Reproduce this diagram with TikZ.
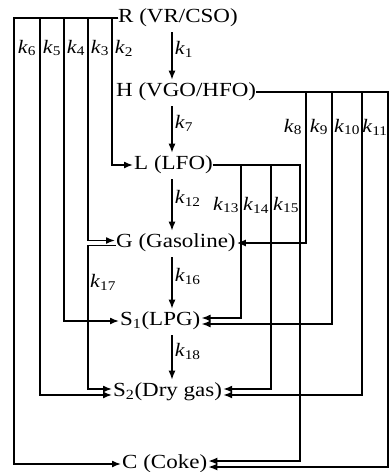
\documentclass[tikz,border=0pt]{standalone}
\usepackage{fontspec}
\setmainfont{Liberation Serif}[FakeStretch=1.15]
\usetikzlibrary{arrows.meta}
\newcommand{\kk}[1]{\textit{k}\textsubscript{#1}}
\begin{document}
\begin{tikzpicture}[x=1pt,y=-1pt,
  lump/.style={inner sep=0pt,anchor=west,font=\fontsize{20}{24}\selectfont},
  rate/.style={inner sep=0pt,font=\fontsize{19}{22}\selectfont},
  wire/.style={draw,line width=1.5pt},
  flow/.style={wire,shorten >=1pt,-{Latex[length=9pt,width=7pt]}}]
\useasboundingbox (0,0) rectangle (391,472);

\node[lump] (R) at (118,18) {R (VR/CSO)};
\node[lump] (H) at (116,92) {H (VGO/HFO)};
\node[lump] (L) at (134,165) {L (LFO)};
\node[lump] (G) at (116,243) {G (Gasoline)};
\node[lump] (S1) at (120,321) {S\textsubscript{1}(LPG)};
\node[lump] (S2) at (113,392) {S\textsubscript{2}(Dry gas)};
\node[lump] (C) at (122,464) {C (Coke)};

% buses
\coordinate (ax) at (172,0);
\coordinate (b6) at (14,0);
\coordinate (b5) at (40,0);
\coordinate (b4) at (64,0);
\coordinate (b3) at (88,0);
\coordinate (b2) at (112,0);
\coordinate (c8) at (306,0);
\coordinate (c9) at (332,0);
\coordinate (c10) at (362,0);
\coordinate (c11) at (388,0);
\coordinate (d13) at (241,0);
\coordinate (d14) at (271,0);
\coordinate (d15) at (300,0);

% double entries
\coordinate (Gin) at ([yshift=2.5pt]G.west);
\coordinate (Gout) at ([yshift=-2.5pt]G.west);
\coordinate (S1a) at ([yshift=3pt]S1.east);
\coordinate (S1b) at ([yshift=-3pt]S1.east);
\coordinate (S2a) at ([yshift=3pt]S2.west);
\coordinate (S2b) at ([yshift=-3pt]S2.west);
\coordinate (S2c) at ([yshift=3pt]S2.east);
\coordinate (S2d) at ([yshift=-3pt]S2.east);
\coordinate (Ca) at ([yshift=3pt]C.east);
\coordinate (Cb) at ([yshift=-3pt]C.east);

% main chain
\path[flow,shorten <=5pt,shorten >=3pt] (R.south -| ax) -- node[rate,pos=0.4,right=2pt] {\kk{1}} (H.north -| ax);
\path[flow,shorten <=5pt,shorten >=3pt] (H.south -| ax) -- node[rate,pos=0.4,right=2pt] {\kk{7}} (L.north -| ax);
\path[flow,shorten <=5pt,shorten >=3pt] (L.south -| ax) -- node[rate,pos=0.4,right=2pt] {\kk{12}} (G.north -| ax);
\path[flow,shorten <=5pt,shorten >=3pt] (G.south -| ax) -- node[rate,pos=0.4,right=2pt] {\kk{16}} (S1.north -| ax);
\path[flow,shorten <=5pt,shorten >=3pt] (S1.south -| ax) -- node[rate,pos=0.4,right=2pt] {\kk{18}} (S2.north -| ax);

% from R
\path[flow] (R.west) -| (b2 |- L.west) -- (L.west);
\path[flow] (R.west) -| (b3 |- Gin) -- (Gin);
\path[flow] (R.west) -| (b4 |- S1.west) -- (S1.west);
\path[flow] (R.west) -| (b5 |- S2b) -- (S2b);
\path[flow] (R.west) -| (b6 |- C.west) -- (C.west);

% from H
\path[flow] (H.east) -| (c8 |- G.east) -- (G.east);
\path[flow] (H.east) -| (c9 |- S1b) -- (S1b);
\path[flow] (H.east) -| (c10 |- S2d) -- (S2d);
\path[flow] (H.east) -| (c11 |- Cb) -- (Cb);

% from L
\path[flow] (L.east) -| (d13 |- S1a) -- (S1a);
\path[flow] (L.east) -| (d14 |- S2c) -- (S2c);
\path[flow] (L.east) -| (d15 |- Ca) -- (Ca);

% from G
\path[flow] (Gout) -| (b3 |- S2a) -- (S2a);

% rate labels
\node[rate] (k6) at (27,48) {\kk{6}};
\node[rate] (k5) at (52,48) {\kk{5}};
\node[rate] (k4) at (76,48) {\kk{4}};
\node[rate] (k3) at (100,48) {\kk{3}};
\node[rate] (k2) at (124,48) {\kk{2}};
\node[rate] (k8) at (293,127) {\kk{8}};
\node[rate] (k9) at (319,127) {\kk{9}};
\node[rate] (k10) at (347,127) {\kk{10}};
\node[rate] (k11) at (375,127) {\kk{11}};
\node[rate] (k13) at (226,205) {\kk{13}};
\node[rate] (k14) at (256,205) {\kk{14}};
\node[rate] (k15) at (286,205) {\kk{15}};
\node[rate] (k17) at (103,282) {\kk{17}};
\end{tikzpicture}
\end{document}
